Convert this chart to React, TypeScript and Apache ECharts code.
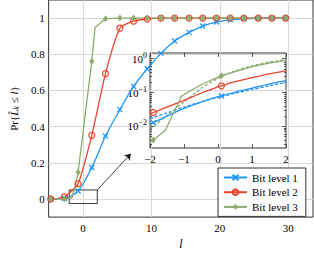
import React, { useEffect, useRef } from "react";
import * as echarts from "echarts";

const FONT = "'Liberation Serif', 'Times New Roman', serif";
const BLUE = "#1f97fb";
const RED = "#e8432c";
const GREEN = "#8dab6c";
const AXIS = "#333";

const xTicks = [0, 10, 20, 30];
const yTicks = [0, 0.2, 0.4, 0.6, 0.8, 1];
const insetYTicks = [-2, -1, 0];
const legendNames = ["Bit level 1", "Bit level 2", "Bit level 3"];

// main plot (marker positions)
const mainX = [-4.7, -2.7, -0.7, 1.3, 3.3, 5.4, 7.4, 9.4, 11.4, 13.4, 15.5, 17.5, 19.5, 21.5, 23.5, 25.6, 27.6, 29.6];
const blueMain = [0, 0.004, 0.044, 0.174, 0.348, 0.494, 0.622, 0.72, 0.805, 0.873, 0.921, 0.956, 0.978, 0.99, 0.996, 0.999, 1, 1];
const redMain = [0, 0.012, 0.085, 0.352, 0.693, 0.944, 0.983, 0.995, 1, 1, 1, 1, 1, 1, 1, 1, 1, 1];
const greenMain = [0, 0.002, 0.148, 0.761, 0.997, 1, 1, 1, 1, 1, 1, 1, 1, 1, 1, 1, 1, 1];
const greenExtraX = [-1.6, -1.1, 1.77];
const greenExtraY = [0.007, 0.076, 0.948];

// zoom box and arrow (annotation)
const boxX = [-2, 2.1, 2.1, -2, -2];
const boxY = [-0.025, -0.025, 0.05, 0.05, -0.025];
const arrowFrom = [2.1, 0.05];
const arrowTo = [7.0, 0.25];

// inset (log scale)
const insetX = [-2, -1.9, -1.5, -1, -0.5, 0, 0.1, 0.5, 1, 1.5, 2];
const insetMarkX = [-1.9, 0.1];
const blueInset = [0.0117, 0.0129, 0.02, 0.0339, 0.0525, 0.0759, 0.0794, 0.102, 0.135, 0.178, 0.224];
const blueInsetDashed = [0.0166, 0.0182, 0.0251, 0.0372, 0.0525, 0.0724, 0.0759, 0.0955, 0.123, 0.158, 0.2];
const redInset = [0.0234, 0.0257, 0.0372, 0.0589, 0.0955, 0.148, 0.158, 0.209, 0.275, 0.355, 0.437];
const greenInsetX = [-2, -1.9, -1.55, -1.07, -0.5, 0.1, 0.5, 1, 1.5, 2];
const greenInset = [0.00355, 0.00398, 0.00759, 0.0794, 0.17, 0.316, 0.417, 0.589, 0.741, 0.891];
const greenInsetDashed = [0.0083, 0.01, 0.0209, 0.0525, 0.132, 0.263, 0.295, 0.437, 0.617, 0.794, 0.933];
const insetLogMin = -2.64;
const insetLogMax = 0.17;

const X_SYMBOL = "path://M0,0L10,10M10,0L0,10";

function pts(xs: number[], ys: number[], marks: number[] | null, log: boolean) {
  return xs.map((x, i) => {
    const v = log ? Math.log10(ys[i]) : ys[i];
    if (marks === null || marks.includes(x)) return [x, v];
    return { value: [x, v], symbol: "none" };
  });
}

const minorLogTicks: number[] = [];
for (let d = -3; d <= 0; d++) {
  for (let k = 2; k <= 9; k++) {
    const v = d + Math.log10(k);
    if (v > insetLogMin && v < insetLogMax) minorLogTicks.push(v);
  }
}

const minus = (v: number) => (v < 0 ? "\u2212" + -v : String(v));

export default function App() {
  const ref = useRef<HTMLDivElement>(null);
  useEffect(() => {
    const chart = echarts.init(ref.current!, undefined, { renderer: "svg" });
    const txt = { fontFamily: FONT, fontSize: 11, color: "#000" };

    const greenAllX = [...mainX, ...greenExtraX];
    const greenAllY = [...greenMain, ...greenExtraY];
    const order = greenAllX.map((_, i) => i).sort((a, b) => greenAllX[a] - greenAllX[b]);
    const greenData = order.map((i) =>
      i < mainX.length
        ? [greenAllX[i], greenAllY[i]]
        : { value: [greenAllX[i], greenAllY[i]], symbol: "none" }
    );

    const insetYAxis = (pos: string, labels: boolean, minor: boolean) => ({
      gridIndex: 1,
      type: "value",
      min: insetLogMin,
      max: insetLogMax,
      position: pos,
      axisLine: { show: false, onZero: false },
      axisTick: {
        show: true,
        inside: true,
        length: minor ? 2 : 4,
        customValues: minor ? minorLogTicks : insetYTicks,
        lineStyle: { color: AXIS, width: 0.8 },
      },
      axisLabel: labels
        ? {
            show: true,
            customValues: insetYTicks,
            margin: 3,
            formatter: (v: number) => `{b|10}{s|${minus(Math.round(v))}}`,
            rich: {
              b: { fontFamily: FONT, fontSize: 11, color: "#000" },
              s: { fontFamily: FONT, fontSize: 8, color: "#000", padding: [0, 0, 7, 0] },
            },
          }
        : { show: false },
      splitLine: { show: false },
    });

    const insetXAxis = (pos: string, labels: boolean) => ({
      gridIndex: 1,
      type: "value",
      min: -2,
      max: 2,
      interval: 1,
      position: pos,
      axisLine: { show: false, onZero: false },
      axisTick: { show: true, inside: true, length: 4, lineStyle: { color: AXIS, width: 0.8 } },
      axisLabel: labels ? { show: true, margin: 5, ...txt, formatter: (v: number) => minus(v) } : { show: false },
      splitLine: { show: false },
    });

    const option: any = {
      animation: false,
      backgroundColor: "#fff",
      textStyle: { fontFamily: FONT },
      grid: [
        { left: 43, top: 0, right: 1, bottom: 31, show: true, borderColor: AXIS, borderWidth: 1, backgroundColor: "transparent" },
        { left: 150, top: 53, width: 136, height: 95, show: true, borderColor: AXIS, borderWidth: 1, backgroundColor: "transparent" },
      ],
      xAxis: [
        {
          gridIndex: 0,
          type: "value",
          min: -5,
          max: 33.6,
          axisLine: { show: false, onZero: false },
          axisTick: { show: false, customValues: xTicks },
          axisLabel: { customValues: xTicks, margin: 5, ...txt },
          splitLine: { show: true, lineStyle: { color: "#d9d9d9", width: 1 } },
          name: "l",
          nameLocation: "middle",
          nameGap: 16,
          nameTextStyle: { fontFamily: FONT, fontSize: 12, fontStyle: "italic", color: "#000" },
        },
        insetXAxis("bottom", true),
        insetXAxis("top", false),
      ],
      yAxis: [
        {
          gridIndex: 0,
          type: "value",
          min: -0.1,
          max: 1.1,
          axisLine: { show: false, onZero: false },
          axisTick: { show: false, customValues: yTicks },
          axisLabel: {
            customValues: yTicks,
            margin: 4,
            ...txt,
            formatter: (v: number) => String(parseFloat(v.toFixed(1))),
          },
          splitLine: { show: true, lineStyle: { color: "#d9d9d9", width: 1 } },
          name: "{n|Pr{}{i|L\u0303}{k|k}{n| \u2264 }{i|l}}",
          nameLocation: "middle",
          nameGap: 24,
          nameTextStyle: {
            fontFamily: FONT,
            fontSize: 11,
            color: "#000",
            rich: {
              n: { fontFamily: FONT, fontSize: 11, color: "#000" },
              i: { fontFamily: FONT, fontSize: 11, fontStyle: "italic", color: "#000" },
              k: { fontFamily: FONT, fontSize: 8, fontStyle: "italic", color: "#000", padding: [5, 0, 0, 0] },
            },
          },
        },
        insetYAxis("left", true, false),
        insetYAxis("right", false, false),
        insetYAxis("left", false, true),
        insetYAxis("right", false, true),
      ],
      legend: {
        data: legendNames,
        orient: "vertical",
        left: 218,
        top: 168,
        padding: [4, 8, 4, 5],
        itemWidth: 23,
        itemHeight: 7,
        itemGap: 3.7,
        backgroundColor: "#fff",
        borderColor: AXIS,
        borderWidth: 1,
        borderRadius: 0,
        textStyle: { fontFamily: FONT, fontSize: 11, color: "#000", lineHeight: 11 },
      },
      series: [
        {
          type: "line",
          name: "box",
          xAxisIndex: 0,
          yAxisIndex: 0,
          data: boxX.map((x, i) => [x, boxY[i]]),
          symbol: "none",
          silent: true,
          lineStyle: { color: "#222", width: 0.9 },
          markLine: {
            silent: true,
            symbol: ["none", "arrow"],
            symbolSize: 6,
            label: { show: false },
            lineStyle: { color: "#111", width: 0.8, type: "solid" },
            data: [[{ coord: arrowFrom }, { coord: arrowTo }]],
          },
        },
        {
          type: "line",
          name: legendNames[0],
          xAxisIndex: 0,
          yAxisIndex: 0,
          data: pts(mainX, blueMain, null, false),
          smooth: 0.3,
          symbol: X_SYMBOL,
          symbolSize: 5,
          lineStyle: { color: BLUE, width: 1.3 },
          itemStyle: { color: BLUE, borderColor: BLUE, borderWidth: 1.3 },
        },
        {
          type: "line",
          name: legendNames[1],
          xAxisIndex: 0,
          yAxisIndex: 0,
          data: pts(mainX, redMain, null, false),
          smooth: 0.2,
          symbol: "circle",
          symbolSize: 6,
          lineStyle: { color: RED, width: 1.3 },
          itemStyle: { color: "rgba(255,255,255,0)", borderColor: RED, borderWidth: 1.2 },
        },
        {
          type: "line",
          name: legendNames[2],
          xAxisIndex: 0,
          yAxisIndex: 0,
          data: greenData,
          symbol: "diamond",
          symbolSize: [5, 7],
          lineStyle: { color: GREEN, width: 1.3 },
          itemStyle: { color: GREEN },
        },
        {
          type: "line",
          name: "b-dash",
          xAxisIndex: 1,
          yAxisIndex: 1,
          data: pts(insetX, blueInsetDashed, [], true),
          smooth: 0.3,
          symbol: "none",
          lineStyle: { color: BLUE, width: 1.3, type: [3, 2] },
        },
        {
          type: "line",
          name: "g-dash",
          xAxisIndex: 1,
          yAxisIndex: 1,
          data: pts(insetX, greenInsetDashed, [], true),
          smooth: 0.3,
          symbol: "none",
          lineStyle: { color: GREEN, width: 1.3, type: [3, 2] },
        },
        {
          type: "line",
          name: "b-in",
          xAxisIndex: 1,
          yAxisIndex: 1,
          data: pts(insetX, blueInset, insetMarkX, true),
          smooth: 0.3,
          symbol: X_SYMBOL,
          symbolSize: 5,
          lineStyle: { color: BLUE, width: 1.3 },
          itemStyle: { color: BLUE, borderColor: BLUE, borderWidth: 1.3 },
        },
        {
          type: "line",
          name: "r-in",
          xAxisIndex: 1,
          yAxisIndex: 1,
          data: pts(insetX, redInset, insetMarkX, true),
          smooth: 0.3,
          symbol: "circle",
          symbolSize: 6,
          lineStyle: { color: RED, width: 1.3 },
          itemStyle: { color: "rgba(255,255,255,0)", borderColor: RED, borderWidth: 1.2 },
        },
        {
          type: "line",
          name: "g-in",
          xAxisIndex: 1,
          yAxisIndex: 1,
          data: pts(greenInsetX, greenInset, insetMarkX, true),
          symbol: "diamond",
          symbolSize: [5, 7],
          lineStyle: { color: GREEN, width: 1.3 },
          itemStyle: { color: GREEN },
        },
      ],
    };
    chart.setOption(option);
    return () => chart.dispose();
  }, []);
  return <div ref={ref} style={{ position: "fixed", left: 0, top: 0, width: 314, height: 255 }} />;
}
